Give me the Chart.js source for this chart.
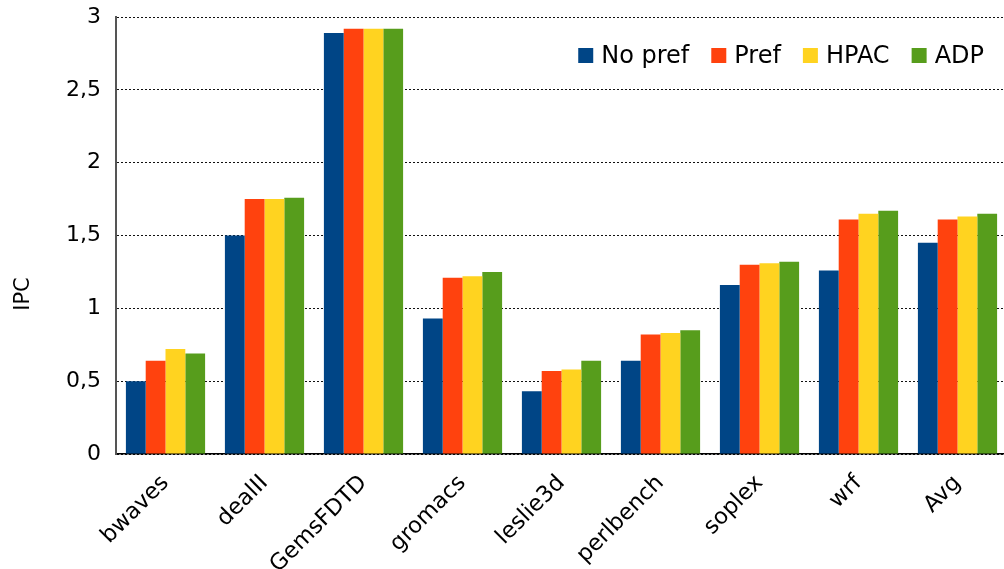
<!DOCTYPE html>
<html>
<head>
<meta charset="utf-8">
<script src="https://cdn.jsdelivr.net/npm/chart.js@4/dist/chart.umd.min.js"></script>
<style>
  html, body { margin: 0; padding: 0; background: #fff; overflow: hidden; }
  #wrap { position: relative; width: 1010px; height: 569px; }
</style>
</head>
<body>
<div id="wrap"><canvas id="c"></canvas></div>
<script>
// Benchmarks on the x axis
const categories = ['bwaves', 'dealII', 'GemsFDTD', 'gromacs', 'leslie3d', 'perlbench', 'soplex', 'wrf', 'Avg'];

// IPC per benchmark for each configuration
const noPref = [0.50, 1.50, 2.89, 0.93, 0.43, 0.64, 1.16, 1.26, 1.45];
const pref   = [0.64, 1.75, 2.92, 1.21, 0.57, 0.82, 1.30, 1.61, 1.61];
const hpac   = [0.72, 1.75, 2.92, 1.22, 0.58, 0.83, 1.31, 1.65, 1.63];
const adp    = [0.69, 1.76, 2.92, 1.25, 0.64, 0.85, 1.32, 1.67, 1.65];

const seriesNames = ['No pref', 'Pref', 'HPAC', 'ADP'];
const seriesColors = ['#004586', '#ff420e', '#ffd320', '#579d1c'];

// Y axis range and tick spacing
const yMin = 0, yMax = 3, yStep = 0.5;
const yTitle = 'IPC';

const FONT = "'DejaVu Sans', Verdana, sans-serif";

// Legend drawn inside the plot, top-right, as coloured squares with labels
const insideLegend = {
  id: 'insideLegend',
  afterDraw(chart) {
    const ctx = chart.ctx;
    const area = chart.chartArea;
    ctx.save();
    ctx.font = '24px ' + FONT;
    ctx.textBaseline = 'middle';
    ctx.textAlign = 'left';
    const box = 15, boxGap = 8, itemGap = 22;
    const items = chart.data.datasets.map(ds => ({ label: ds.label, color: ds.backgroundColor }));
    let total = 0;
    items.forEach((it, i) => {
      it.w = ctx.measureText(it.label).width;
      total += box + boxGap + it.w + (i < items.length - 1 ? itemGap : 0);
    });
    let x = area.right - 23 - total;
    const cy = 55.5;
    items.forEach(it => {
      ctx.fillStyle = it.color;
      ctx.fillRect(x, cy - box / 2, box, box);
      x += box + boxGap;
      ctx.fillStyle = '#000';
      ctx.fillText(it.label, x, cy + 1);
      x += it.w + itemGap;
    });
    ctx.restore();
  }
};

// Rotated y-axis title
const yAxisTitle = {
  id: 'yAxisTitle',
  afterDraw(chart) {
    const ctx = chart.ctx;
    ctx.save();
    ctx.font = '21px ' + FONT;
    ctx.fillStyle = '#000';
    ctx.textAlign = 'center';
    ctx.textBaseline = 'middle';
    ctx.translate(24, 294);
    ctx.rotate(-Math.PI / 2);
    ctx.fillText(yTitle, 0, 0);
    ctx.restore();
  }
};

const datasets = [noPref, pref, hpac, adp].map((vals, i) => ({
  label: seriesNames[i],
  data: vals,
  backgroundColor: seriesColors[i],
  borderWidth: 0,
  categoryPercentage: 0.8,
  barPercentage: 1.0
}));

new Chart(document.getElementById('c'), {
  type: 'bar',
  data: { labels: categories, datasets },
  options: {
    responsive: true,
    maintainAspectRatio: false,
    animation: false,
    devicePixelRatio: 1,
    layout: { padding: { left: 0, right: 3, top: 17, bottom: 0 } },
    plugins: {
      legend: { display: false },
      tooltip: { enabled: false }
    },
    scales: {
      x: {
        grid: { display: false, drawTicks: false },
        border: { display: true, color: '#000', width: 1.5 },
        ticks: {
          color: '#000',
          font: { family: FONT, size: 22.5 },
          maxRotation: 45,
          minRotation: 45,
          padding: 16,
          autoSkip: false
        },
        afterFit(scale) { scale.height = 115; scale.paddingLeft = 0; scale.paddingRight = 0; }
      },
      y: {
        min: yMin,
        max: yMax,
        grid: { color: '#111', lineWidth: 1, drawTicks: false },
        border: { display: true, color: '#555', width: 2, dash: [2, 2] },
        ticks: {
          stepSize: yStep,
          color: '#000',
          font: { family: FONT, size: 22 },
          padding: 15,
          callback: v => String(v).replace('.', ',')
        },
        afterFit(scale) { scale.width = 116; scale.paddingTop = 0; scale.paddingBottom = 0; }
      }
    }
  },
  plugins: [insideLegend, yAxisTitle]
});
</script>
</body>
</html>
